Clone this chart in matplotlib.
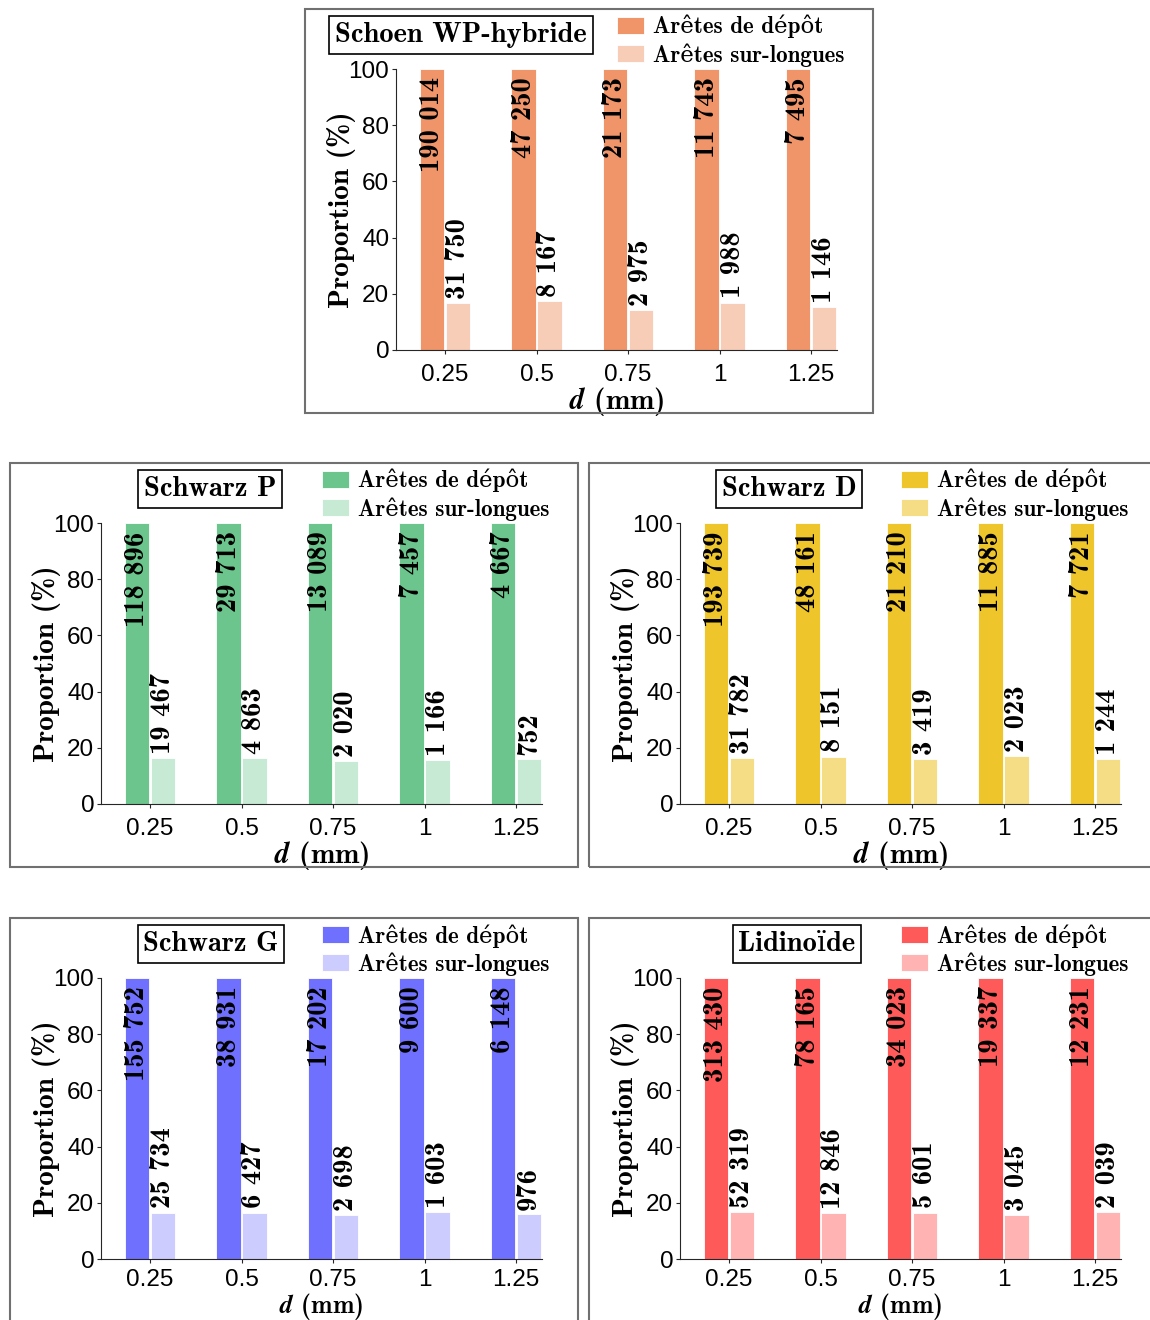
import matplotlib
matplotlib.use('Agg')
import matplotlib.pyplot as plt
from matplotlib.patches import Rectangle

plt.rcParams['font.family'] = ['cmb10', 'DejaVu Serif']
plt.rcParams['mathtext.fontset'] = 'cm'
plt.rcParams['axes.unicode_minus'] = False

W, H = 1150, 1320

# data
d_labels = ['0.25', '0.5', '0.75', '1', '1.25']

schoen_depot = [190014, 47250, 21173, 11743, 7495]
schoen_longues = [31750, 8167, 2975, 1988, 1146]
schoen_pct = [16.7, 17.3, 14.1, 16.9, 15.3]

schwarzp_depot = [118896, 29713, 13089, 7457, 4667]
schwarzp_longues = [19467, 4863, 2020, 1166, 752]
schwarzp_pct = [16.4, 16.4, 15.4, 15.6, 16.1]

schwarzd_depot = [193739, 48161, 21210, 11885, 7721]
schwarzd_longues = [31782, 8151, 3419, 2023, 1244]
schwarzd_pct = [16.4, 16.9, 16.1, 17.0, 16.1]

schwarzg_depot = [155752, 38931, 17202, 9600, 6148]
schwarzg_longues = [25734, 6427, 2698, 1603, 976]
schwarzg_pct = [16.5, 16.5, 15.7, 16.7, 15.9]

lidinoide_depot = [313430, 78165, 34023, 19337, 12231]
lidinoide_longues = [52319, 12846, 5601, 3045, 2039]
lidinoide_pct = [16.7, 16.4, 16.5, 15.7, 16.7]

depot_pct = [100, 100, 100, 100, 100]


def fmt(v):
    return f'{v:,}'.replace(',', ' ')


fig = plt.figure(figsize=(W / 100, H / 100), dpi=100)


def frac(x0, y0, w, h):
    return [x0 / W, 1 - (y0 + h) / H, w / W, h / H]


def panel(bx, by, title, title_cx, c1, c2, depot, longues, pct,
          xpad=-1, xsize=21, tpad=7):
    # outer frame
    fig.patches.append(Rectangle((bx / W, 1 - (by + 404) / H), 568 / W, 404 / H,
                                 transform=fig.transFigure, fill=False,
                                 edgecolor='#707070', linewidth=1.5))
    ax = fig.add_axes(frac(bx + 91, by + 60, 441, 281))
    x = list(range(1, 6))
    xd = [v - 0.142 for v in x]
    xl = [v + 0.142 for v in x]
    ax.bar(xd, depot_pct, width=0.27, color=c1, edgecolor='white', linewidth=0.6,
           label='Arêtes de dépôt')
    ax.bar(xl, pct, width=0.27, color=c2, edgecolor='white', linewidth=0.6,
           label='Arêtes sur-longues')
    for i in range(5):
        ax.annotate(fmt(depot[i]), (xd[i], 100), xytext=(0, -6), textcoords='offset points',
                    rotation=90, ha='center', va='top', fontsize=20.5)
        ax.annotate(fmt(longues[i]), (xl[i], pct[i]), xytext=(0, 3), textcoords='offset points',
                    rotation=90, ha='center', va='bottom', fontsize=20.5)
    ax.set_xlim(0.4645, 5.284)
    ax.set_ylim(0, 100)
    ax.set_xticks(x)
    ax.set_xticklabels(d_labels)
    ax.set_yticks([0, 20, 40, 60, 80, 100])
    for lab in ax.get_xticklabels() + ax.get_yticklabels():
        lab.set_family('Liberation Sans')
        lab.set_fontsize(17.5)
    ax.tick_params(direction='out', length=3, width=0.8, color='#262626')
    ax.tick_params(axis='x', pad=tpad)
    ax.tick_params(axis='y', pad=1.8)
    ax.spines['top'].set_visible(False)
    ax.spines['right'].set_visible(False)
    ax.spines['left'].set_color('#262626')
    ax.spines['bottom'].set_color('#262626')
    ax.set_ylabel('Proportion (%)', fontsize=21, labelpad=-5)
    ax.set_xlabel(r'$\mathbfit{d}$ (mm)', fontsize=xsize, labelpad=xpad)
    fig.text((bx + title_cx) / W, 1 - (by + 26) / H, title, ha='center', va='center',
             fontsize=20.5,
             bbox=dict(boxstyle='square,pad=0.2', facecolor='white', edgecolor='black',
                       linewidth=1.2))
    ax.legend(loc='upper left', bbox_to_anchor=((bx + 312) / W, 1 - (by + 6) / H),
              bbox_transform=fig.transFigure, frameon=False, fontsize=16.6,
              handlelength=1.17, handleheight=0.78, handletextpad=0.38, labelspacing=0.2,
              borderpad=0, borderaxespad=0)
    return ax


panel(305, 9, 'Schoen WP-hybride', 156, '#F0956A', '#F8CDB8',
      schoen_depot, schoen_longues, schoen_pct)
panel(10, 463, 'Schwarz P', 200, '#6BC58D', '#C6EAD3',
      schwarzp_depot, schwarzp_longues, schwarzp_pct)
panel(589, 463, 'Schwarz D', 200, '#EEC52A', '#F4DD84',
      schwarzd_depot, schwarzd_longues, schwarzd_pct)
# bottom row: pulled up a little so the axis label stays inside the figure
panel(10, 918, 'Schwarz G', 201, '#7070FF', '#CCCCFF',
      schwarzg_depot, schwarzg_longues, schwarzg_pct, xpad=0, xsize=18.5, tpad=4)
panel(589, 918, 'Lidinoïde', 208, '#FF5A5A', '#FFB3B3',
      lidinoide_depot, lidinoide_longues, lidinoide_pct, xpad=0, xsize=18.5, tpad=4)

plt.savefig('out.png', dpi=100)
